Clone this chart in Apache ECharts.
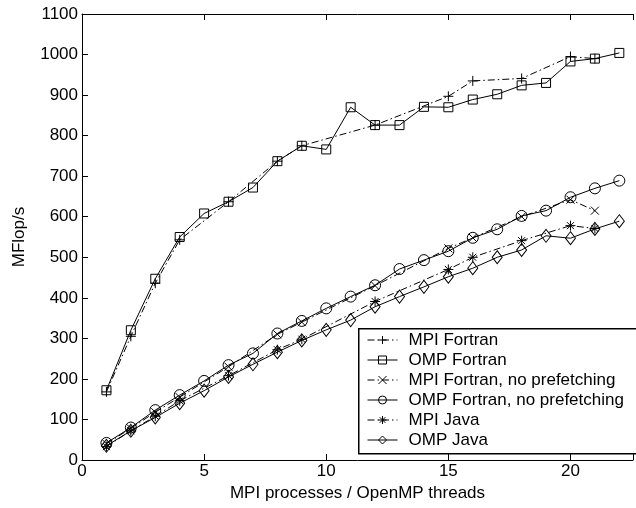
<!DOCTYPE html>
<html>
<head>
<meta charset="utf-8">
<title>MFlop/s</title>
<script src="https://cdn.jsdelivr.net/npm/echarts@6/dist/echarts.min.js"></script>
<style>
  html, body { margin: 0; padding: 0; background: #fff; }
  #chart { width: 636px; height: 508px; }
</style>
</head>
<body>
<div id="chart"></div>
<script>
// thread / process counts
var ompX = [1, 2, 3, 4, 5, 6, 7, 8, 9, 10, 11, 12, 13, 14, 15, 16, 17, 18, 19, 20, 21, 22];
var mpiX = [1, 2, 3, 4, 6, 8, 9, 12, 15, 16, 18, 20, 21];

// MFlop/s
var mpiFortran      = [168, 305, 436, 543, 637, 737, 775, 826, 897, 935, 941, 995, 990];
var ompFortran      = [172, 320, 447, 550, 608, 637, 672, 737, 775, 766, 870, 826, 826, 871, 870, 889, 902, 924, 930, 983, 990, 1004];
var mpiFortranNoPf  = [40, 78, 118, 155, 230, 310, 340, 430, 522, 548, 600, 642, 615];
var ompFortranNoPf  = [42, 80, 123, 160, 195, 234, 263, 312, 343, 374, 403, 431, 471, 493, 515, 548, 569, 602, 615, 648, 670, 689];
var mpiJava         = [33, 72, 108, 146, 208, 272, 298, 391, 470, 500, 541, 578, 571];
var ompJava         = [35, 72, 105, 140, 171, 205, 236, 266, 295, 321, 345, 378, 403, 427, 452, 473, 500, 518, 553, 547, 570, 589];

var xTicks = [0, 5, 10, 15, 20];
var yTicks = [0, 100, 200, 300, 400, 500, 600, 700, 800, 900, 1000, 1100];

function pairs(xs, ys) {
    return xs.map(function (x, i) { return [x, ys[i]]; });
}

var FONT = 'Liberation Sans';
var dashDot = [7, 3, 1.5, 3];
var markStyle = { color: 'rgba(0,0,0,0)', borderColor: '#000', borderWidth: 1 };

function mkSeries(name, data, symbol, size, dashed) {
    return {
        name: name,
        type: 'line',
        data: data,
        symbol: symbol,
        symbolSize: size,
        showAllSymbol: true,
        itemStyle: markStyle,
        lineStyle: { color: '#000', width: 1, type: dashed ? dashDot : 'solid' },
        emphasis: { disabled: true },
        animation: false
    };
}

var plusPath = 'path://M5,0L5,10M0,5L10,5';
var crossPath = 'path://M0,0L10,10M10,0L0,10';
var starPath = 'path://M5,0L5,10M0,5L10,5M1.5,1.5L8.5,8.5M8.5,1.5L1.5,8.5';

var chart = echarts.init(document.getElementById('chart'));
chart.setOption({
    backgroundColor: '#fff',
    textStyle: { fontFamily: FONT, color: '#000' },
    grid: { left: 82, right: 0, top: 14, bottom: 48 },
    xAxis: [{
        type: 'value', min: 0, max: 22.56, interval: 5,
        name: 'MPI processes / OpenMP threads', nameLocation: 'middle', nameGap: 25,
        nameTextStyle: { fontFamily: FONT, fontSize: 17, color: '#000' },
        axisLine: { lineStyle: { color: '#000', width: 1 } },
        axisTick: { inside: true, length: 6, lineStyle: { color: '#000' } },
        axisLabel: { fontFamily: FONT, fontSize: 17, color: '#000', margin: 3,
            formatter: function (v) { return xTicks.indexOf(v) >= 0 ? v : ''; } },
        splitLine: { show: false }
    }, {
        type: 'value', position: 'top', min: 0, max: 22.56, interval: 5,
        axisLine: { lineStyle: { color: '#000', width: 1 } },
        axisTick: { inside: true, length: 6, lineStyle: { color: '#000' } },
        axisLabel: { show: false },
        splitLine: { show: false }
    }],
    yAxis: {
        type: 'value', min: 0, max: 1100, interval: 100,
        name: 'MFlop/s', nameLocation: 'middle', nameGap: 54,
        nameTextStyle: { fontFamily: FONT, fontSize: 17, color: '#000' },
        axisLine: { show: true, lineStyle: { color: '#000', width: 1 } },
        axisTick: { inside: true, length: 6, lineStyle: { color: '#000' } },
        axisLabel: { fontFamily: FONT, fontSize: 17, color: '#000', margin: 4,
            formatter: function (v) { return yTicks.indexOf(v) >= 0 ? v : ''; } },
        splitLine: { show: false }
    },
    graphic: [{
        type: 'rect', left: 358, top: 328, z: 3,
        shape: { width: 300, height: 125 },
        style: { fill: '#fff', stroke: '#000', lineWidth: 1.5 }
    }],
    legend: {
        orient: 'vertical', left: 358, top: 330,
        padding: [0, 0, 0, 9],
        itemWidth: 30, itemHeight: 10, itemGap: 0,
        z: 5,
        lineStyle: { width: 1 },
        itemStyle: { borderWidth: 1 },
        textStyle: { fontFamily: FONT, fontSize: 17, color: '#000', lineHeight: 20, padding: [0, 0, 0, 6] },
        data: ['MPI Fortran', 'OMP Fortran', 'MPI Fortran, no prefetching',
               'OMP Fortran, no prefetching', 'MPI Java', 'OMP Java']
    },
    series: [
        mkSeries('MPI Fortran', pairs(mpiX, mpiFortran), plusPath, 10, true),
        mkSeries('OMP Fortran', pairs(ompX, ompFortran), 'rect', 9, false),
        mkSeries('MPI Fortran, no prefetching', pairs(mpiX, mpiFortranNoPf), crossPath, 8, true),
        mkSeries('OMP Fortran, no prefetching', pairs(ompX, ompFortranNoPf), 'circle', 11, false),
        mkSeries('MPI Java', pairs(mpiX, mpiJava), starPath, 10, true),
        mkSeries('OMP Java', pairs(ompX, ompJava), 'diamond', [10, 13], false)
    ]
});
</script>
</body>
</html>
